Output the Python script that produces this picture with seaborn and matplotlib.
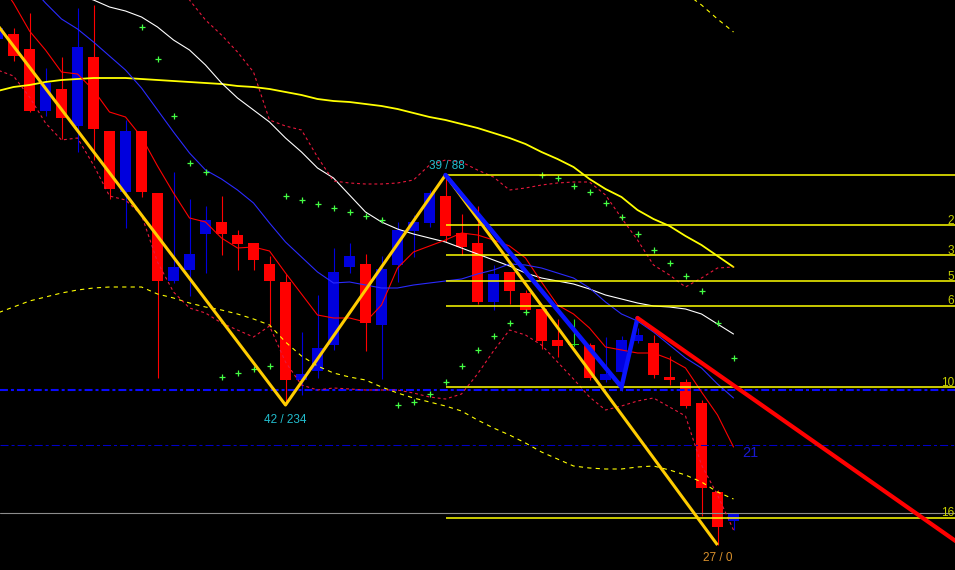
import numpy as np
import pandas as pd
import matplotlib
matplotlib.use("Agg")
import matplotlib.pyplot as plt
import seaborn as sns

# ---------------- data (bar index, price in points) ----------------
bars = list(range(-1, 46))

opens  = [531, 536, 521, 459, 481, 444, 513, 439, 378, 439, 377, 289, 300, 336, 348, 335,
          327, 306, 288, 190, 199, 225, 303, 306, 245, 305, 339, 347, 374, 337, 327, 268,
          298, 277, 261, 230, 225, 225, 190, 198, 229, 227, 193, 188, 167, 78, 49]
highs  = [545, 542, 557, 502, 513, 562, 565, 439, 450, 439, 377, 398, 371, 364, 374, 340,
          327, 314, 296, 238, 275, 322, 327, 316, 314, 348, 355, 380, 395, 356, 364, 305,
          298, 280, 265, 251, 251, 227, 233, 234, 242, 235, 214, 191, 170, 80, 57]
lows   = [525, 509, 458, 454, 431, 418, 410, 371, 342, 373, 192, 287, 274, 297, 315, 300,
          300, 243, 165, 175, 192, 220, 297, 219, 191, 288, 313, 343, 328, 315, 266, 260,
          266, 258, 221, 213, 224, 190, 188, 198, 227, 192, 185, 162, 54, 25, 40]
closes = [542, 514, 459, 487, 452, 523, 441, 381, 439, 378, 289, 303, 316, 350, 336, 326,
          310, 289, 190, 196, 222, 298, 314, 247, 301, 340, 348, 377, 334, 323, 268, 296,
          279, 260, 229, 224, 225, 192, 196, 230, 235, 195, 190, 164, 82, 43, 57]

nan = np.nan
ma_white = [600, 595, 590, 585, 580, 575, 570, 563, 559, 553, 543, 530, 520, 505, 487, 472,
            460, 448, 432, 418, 402, 392, 375, 358, 348, 341, 336, 332, 328, 322, 316, 310,
            304, 297, 292, 289, 286, 281, 275, 271, 267, 264, 263, 261, 256, 246, 236]
ma_yellow = [479, 483, 485, 488, 490, 491, 492, 492, 492, 491, 490, 489, 488, 487, 486, 484,
             483, 481, 478, 475, 471, 469, 468, 466, 464, 461, 457, 453, 450, 446, 442, 437,
             432, 426, 418, 411, 403, 391, 381, 373, 360, 351, 344, 334, 325, 314, 303]
env_lower = [257, 263, 269, 273, 277, 280, 282, 283, 283, 283, 276, 272, 267, 263, 260, 256,
             251, 245, 228, 214, 204, 197, 193, 190, 183, 177, 172, 168, 164, 159, 150, 142,
             135, 127, 118, 111, 104, 102, 101, 101, 103, 104, 100, 95, 88, 78, 71]
env_upper = [nan] * 42 + [590, 577, 565, 551, 538]
band_upper = [nan] * 10 + [625, 597, 570, 550, 535, 518, 498, 450, 444, 440, 413, 389, 387,
                           386, 386, 387, 390, 405, 410, 408, 400, 393, 380, 382, 385, 387,
                           388, 388, 375, 352, 330, 305, 295, 283, 292, 302, 303]
band_lower = [500, 494, 473, 447, 430, 432, 405, 374, 370, 355, 308, 278, 262, 257, 247, 240,
              233, 244, 208, 185, 180, 182, 181, 180, 180, 180, 177, 173, 171, 176, 196, 219,
              240, 235, 225, 208, 191, 173, 160, 164, 169, 172, 163, 154, 105, 75, 40]
ma_red = [590, 567, 539, 520, 498, 496, 480, 458, 453, 433, 404, 377, 352, 348, 332, 322,
          323, 319, 297, 276, 255, 252, 252, 248, 265, 302, 318, 324, 330, 337, 335, 330,
          324, 312, 288, 265, 256, 242, 223, 220, 217, 217, 211, 202, 178, 155, 123]
ma_blue = [620, 602, 585, 567, 551, 541, 528, 514, 500, 482, 460, 438, 417, 400, 391, 380,
           367, 347, 328, 313, 298, 287, 288, 285, 282, 282, 285, 287, 289, 291, 296, 300,
           306, 305, 302, 297, 292, 282, 268, 256, 249, 238, 225, 212, 202, 186, 172]
sar = [nan] * 9 + [543, 511, 454, 407, 398, 193, 197, 201, 204, 374, 370, 366, 362, 358, 354,
                   350, 165, 168, 176, 188, 204, 220, 234, 247, 258, 395, 392, 384, 378, 367,
                   353, 336, 320, 307, 294, 279, 247, 212]

zz_bars = [-1, 17, 27, 44]
zz_prices = [545, 165, 395, 25]
zz2_bars = [27, 38, 39]
zz2_prices = [395, 183, 252]
trend_bars = [39, 62]
trend_prices = [252, -6]

fib_start_bar = 27
fib_levels = [395, 345, 315, 289, 264, 183, 52]
# only the part of each fibo caption that shows before the right edge
fib_labels = ["", "2", "3", "5", "6", "10", "16"]

level_main = 180      # blue dash-dot
level_21 = 125        # thin blue dash-dot, labelled 21
level_gray = 57

swing_labels = [("39 / 88", 27.1, 404, "#22bccc"),
                ("42 / 234", 17.0, 150, "#22bccc"),
                ("27 / 0", 44.0, 12, "#d8902c")]

# ---------------- figure ----------------
sns.set_theme(style="dark")
plt.rcParams["font.family"] = ["Liberation Sans", "DejaVu Sans"]

fig = plt.figure(figsize=(9.55, 5.70), dpi=100)
fig.patch.set_facecolor("black")
ax = fig.add_axes([0, 0, 1, 1])
ax.set_facecolor("black")

df = pd.DataFrame({"bar": bars, "open": opens, "high": highs, "low": lows, "close": closes,
                   "white": ma_white, "yellow": ma_yellow, "env_lo": env_lower,
                   "env_hi": env_upper, "band_hi": band_upper, "band_lo": band_lower,
                   "red": ma_red, "blue": ma_blue, "sar": sar})

def candle_color(o, c):
    if c > o:
        return "#0000dd"
    if c < o:
        return "#ff0000"
    return "#22e022"

cols = [candle_color(o, c) for o, c in zip(df.open, df.close)]
ax.vlines(df.bar, df.low, df.high, colors=cols, lw=0.8, zorder=2)
bottoms = np.minimum(df.open, df.close)
heights = np.maximum(np.abs(df.close - df.open), 1.2)
ax.bar(df.bar, heights, bottom=bottoms, width=0.69, color=cols, linewidth=0, zorder=2)

# horizontal levels
ax.axhline(level_main, color="#0a0aff", lw=1.5, ls=(0, (3.8, 1.44, 1.44, 1.44)), zorder=3)
ax.axhline(level_21, color="#0000c8", lw=0.75, ls=(0, (7.7, 2.9, 2.9, 2.9)), zorder=3)
ax.axhline(level_gray, color="#8c8c8c", lw=0.8, zorder=3)

# indicator lines
common = dict(ax=ax, estimator=None, sort=False, legend=False)
sns.lineplot(data=df, x="bar", y="yellow", color="#ffff00", lw=1.3, zorder=4, **common)
sns.lineplot(data=df, x="bar", y="white", color="#ffffff", lw=0.8, zorder=4, **common)
sns.lineplot(data=df, x="bar", y="env_lo", color="#ffff00", lw=0.8,
             linestyle=(0, (3.8, 3.8)), zorder=4, **common)
sns.lineplot(data=df, x="bar", y="env_hi", color="#ffff00", lw=0.8,
             linestyle=(0, (3.8, 3.8)), zorder=4, **common)
sns.lineplot(data=df, x="bar", y="band_hi", color="#e8183c", lw=0.8,
             linestyle=(0, (2.6, 2.6)), zorder=4, **common)
sns.lineplot(data=df, x="bar", y="band_lo", color="#e8183c", lw=0.8,
             linestyle=(0, (2.6, 2.6)), zorder=4, **common)
sns.lineplot(data=df, x="bar", y="red", color="#ff0000", lw=0.8, zorder=4, **common)
sns.lineplot(data=df, x="bar", y="blue", color="#2a2aff", lw=0.8, zorder=4, **common)
sns.scatterplot(data=df, x="bar", y="sar", marker="+", s=14, color="#44ff44",
                linewidth=0.9, ax=ax, zorder=5, legend=False)

# fibonacci levels
ax.hlines(fib_levels, fib_start_bar, 70, colors="#ffff00", lw=1.1, zorder=5)
for lvl, lab in zip(fib_levels, fib_labels):
    if lab:
        ax.text(58.78, lvl + 1.5, lab, color="#c8d200", fontsize=8.5, ha="right",
                va="baseline", zorder=6)

# zigzags and trend line
ax.plot(zz_bars, zz_prices, color="#ffcc00", lw=2.2, zorder=6, solid_capstyle="butt")
ax.plot(zz2_bars, zz2_prices, color="#0a14ff", lw=3.2, zorder=6, solid_joinstyle="miter")
ax.plot(trend_bars, trend_prices, color="#ff0000", lw=3.0, zorder=6)

for txt, x, y, c in swing_labels:
    ax.text(x, y, txt, color=c, fontsize=8.5, ha="center", va="center", zorder=7)
ax.text(45.55, level_21 - 8, "21", color="#1818d0", fontsize=10.5, ha="left",
        va="center", zorder=7)

ax.set_xlim(-13.5 / 16, (955 - 13.5) / 16)
ax.set_ylim(0, 570)
ax.set_xlabel("")
ax.set_ylabel("")
ax.axis("off")

fig.savefig("out.png", dpi=100, facecolor="black")
